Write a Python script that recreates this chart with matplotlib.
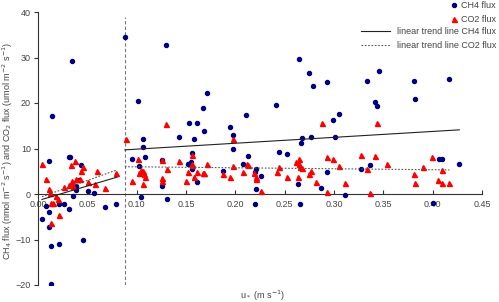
import matplotlib
matplotlib.use("Agg")
import matplotlib.pyplot as plt
from matplotlib.lines import Line2D

plt.rcParams['font.family'] = ['Liberation Sans', 'DejaVu Sans']
plt.rcParams['font.size'] = 6.5

# CH4 flux (nmol m-2 s-1) vs u*
ch4_u = [0.0142, 0.0109, 0.031, 0.0325, 0.0434, 0.042, 0.039, 0.039, 0.051, 0.0566,
         0.0356, 0.0085, 0.021, 0.026, 0.031, 0.011, 0.004, 0.011, 0.068, 0.079,
         0.0135, 0.021, 0.0457, 0.0129, 0.034,
         0.0884, 0.1298, 0.1016, 0.1714, 0.167, 0.211, 0.2415, 0.2646, 0.1535, 0.161,
         0.195, 0.1687, 0.1433, 0.1585, 0.106, 0.1975, 0.106, 0.1975, 0.2127, 0.2442,
         0.2527, 0.0952, 0.108, 0.1257, 0.156, 0.155, 0.1518, 0.1026, 0.1558, 0.2077,
         0.1873, 0.2212, 0.2195, 0.2263, 0.161, 0.1257, 0.2205, 0.2635, 0.1043, 0.1304,
         0.2202, 0.2652,
         0.2744, 0.2788, 0.2924, 0.333, 0.3459, 0.381, 0.4163, 0.382, 0.3415, 0.3432,
         0.3052, 0.2985, 0.2676, 0.2764, 0.3008, 0.267, 0.2934, 0.327, 0.3364, 0.4065,
         0.409, 0.4265, 0.2873, 0.311, 0.400]
ch4_flux = [17.1, 7.2, 8.2, 8.1, 6.4, 3.1, 1.8, 0.9, 0.7, 0.15,
            -0.5, -2.6, -2.1, -2.2, -3.4, -4.0, -5.5, -7.3, -2.9, -2.2,
            -11.4, -11.0, -10.1, -19.8, 29.2,
            34.4, 32.7, 20.5, 22.3, 18.9, 17.4, 19.5, 29.7, 15.5, 15.7,
            14.7, 13.9, 12.5, 12.0, 12.1, 13.0, 10.3, 10.0, 8.3, 9.3,
            8.8, 7.8, 8.1, 7.5, 9.1, 7.1, 6.6, 6.2, 5.6, 6.7,
            5.1, 5.4, 4.8, 4.0, 2.6, 1.8, 1.0, 2.3, -0.6, -1.0,
            -2.3, -2.1,
            26.7, 23.7, 24.6, 24.8, 27.0, 24.9, 25.2, 20.8, 20.3, 19.3,
            17.6, 16.3, 12.2, 12.5, 12.5, 11.1, 4.9, 5.4, 6.4, 7.8,
            7.8, 6.7, 1.4, -0.3, -1.9]

# CO2 flux (umol m-2 s-1) vs u*
co2_u = [0.0044, 0.0085, 0.011, 0.0125, 0.018, 0.0206, 0.0213, 0.0129, 0.0135, 0.015,
         0.033, 0.038, 0.0457, 0.044, 0.039, 0.0345, 0.0424, 0.031, 0.033, 0.0356,
         0.026, 0.051, 0.060, 0.068, 0.079, 0.058,
         0.089, 0.1298, 0.101, 0.104, 0.102, 0.106, 0.107, 0.108, 0.0952, 0.106,
         0.1257, 0.1307, 0.1257, 0.1257, 0.1433, 0.1518, 0.150, 0.156, 0.156, 0.1558,
         0.1585, 0.161, 0.167, 0.1687, 0.1714, 0.1873, 0.195, 0.1975, 0.1975, 0.2077,
         0.2117, 0.213, 0.219, 0.2205, 0.2212, 0.2263, 0.2422, 0.2442, 0.2527, 0.2619,
         0.2635,
         0.2879, 0.3432, 0.2646, 0.265, 0.266, 0.2675, 0.2764, 0.2744, 0.2934, 0.2985,
         0.3052, 0.2822, 0.2924, 0.311, 0.327, 0.333, 0.3418, 0.354, 0.3364, 0.3906,
         0.3808, 0.3821, 0.3997, 0.4093, 0.4058, 0.4093, 0.4167]
co2_flux = [6.7, 3.4, 1.0, 0.3, -0.4, -1.0, -4.6, -6.3, -1.9, -1.9,
            6.4, 7.3, 5.9, 5.0, 3.2, 2.9, 3.2, 2.0, 2.2, 1.8,
            1.6, 2.6, 5.0, 1.3, 4.7, 2.2,
            12.1, 15.4, 7.7, 5.3, 4.7, 5.0, 4.4, 3.7, 2.9, 2.3,
            7.5, 5.4, 3.6, 2.9, 7.3, 4.8, 2.9, 8.6, 6.7, 6.4,
            3.8, 4.8, 4.7, 4.7, 6.7, 4.4, 3.8, 6.2, 12.0, 4.9,
            6.6, 6.3, 4.6, 3.8, 3.4, 0.7, 4.8, 5.9, 3.7, 7.1,
            3.8,
            15.7, 15.7, 7.8, 6.6, 5.9, 5.7, 5.1, 4.3, 8.2, 7.7,
            6.2, 2.7, 0.5, 2.5, 8.6, 5.6, 8.4, 6.7, 0.3, 5.9,
            4.3, 2.5, 8.1, 5.2, 3.1, 2.5, 2.5]

# Linear trend lines (end points)
trend_low_u = [0.004, 0.080]
ch4_trend_low = [-1.2, 3.7]
co2_trend_low = [-0.6, 5.3]
trend_high_u = [0.088, 0.427]
ch4_trend_high = [9.7, 14.1]
co2_trend_high_u = [0.088, 0.417]
co2_trend_high = [6.0, 5.3]

# u* threshold
threshold_u = 0.088
threshold_top = 38.9

fig = plt.figure(figsize=(4.99, 3.02), dpi=100)
ax = fig.add_axes([38 / 499, 1 - 285 / 302, (482 - 38) / 499, (285 - 12) / 302])

blue = '#000080'
red = '#ff0000'

ax.plot(ch4_u, ch4_flux, linestyle='none', marker='o', ms=2.9, color=blue, mec=blue, zorder=3)
ax.plot(co2_u, co2_flux, linestyle='none', marker='^', ms=3.6, color=red, mec=red, zorder=3)

ax.plot(trend_low_u, ch4_trend_low, color='#222222', lw=0.8, zorder=4)
ax.plot(trend_low_u, co2_trend_low, color='#555555', lw=0.8, ls=(0, (1.5, 1.5)), zorder=4)
ax.plot(trend_high_u, ch4_trend_high, color='#222222', lw=0.8, zorder=4)
ax.plot(co2_trend_high_u, co2_trend_high, color='#555555', lw=0.8, ls=(0, (1.5, 1.5)), zorder=4)

ax.plot([threshold_u, threshold_u], [-20, threshold_top], color='#777777', lw=0.8,
        ls=(0, (3, 2)), zorder=2)

ax.set_xlim(0, 0.45)
ax.set_ylim(-20, 40)
ax.set_xticks([0.0, 0.05, 0.10, 0.15, 0.20, 0.25, 0.30, 0.35, 0.40, 0.45])
ax.set_xticklabels(['0.00', '0.05', '0.10', '0.15', '0.20', '0.25', '0.30', '0.35', '0.40', '0.45'])
ax.set_yticks([-20, -10, 0, 10, 20, 30, 40])

ax.spines['top'].set_visible(False)
ax.spines['right'].set_visible(False)
ax.spines['bottom'].set_position(('data', 0))
for s in ('left', 'bottom'):
    ax.spines[s].set_linewidth(0.8)
    ax.spines[s].set_color('#333333')
ax.patch.set_alpha(0)

ax.tick_params(axis='x', direction='in', length=3, width=0.8, pad=4, colors='#333333',
               labelcolor='#444444')
ax.tick_params(axis='y', direction='out', length=3, width=0.8, pad=2, colors='#333333',
               labelcolor='#444444')

ax.set_xlabel('u$_*$ (m s$^{-1}$)', color='#444444')
ax.xaxis.set_label_coords(0.505, -0.012)
ax.set_ylabel('CH$_4$ flux (nmol m$^{-2}$ s$^{-1}$) and CO$_2$ flux (umol m$^{-2}$ s$^{-1}$)',
              color='#444444')
ax.yaxis.set_label_coords(-0.052, 0.49)

h1 = [Line2D([], [], ls='none', marker='o', ms=2.9, color=blue),
      Line2D([], [], ls='none', marker='^', ms=3.6, color=red)]
leg1 = fig.legend(h1, ['CH4 flux', 'CO2 flux'], loc='upper right',
                  bbox_to_anchor=(496 / 499, 1 - 1 / 302), frameon=False,
                  handlelength=0.6, handletextpad=0.5, borderpad=0, borderaxespad=0,
                  labelspacing=0.55, alignment='right', labelcolor='#444444')
h2 = [Line2D([], [], color='#222222', lw=0.8),
      Line2D([], [], color='#555555', lw=0.8, ls=(0, (1.5, 1.5)))]
leg2 = fig.legend(h2, ['linear trend line CH4 flux', 'linear trend line CO2 flux'],
                  loc='upper right', bbox_to_anchor=(496 / 499, 1 - 27 / 302), frameon=False,
                  handlelength=3.3, handletextpad=0.7, borderpad=0, borderaxespad=0,
                  labelspacing=0.55, alignment='right', labelcolor='#444444')

fig.savefig('out.png', dpi=100)
